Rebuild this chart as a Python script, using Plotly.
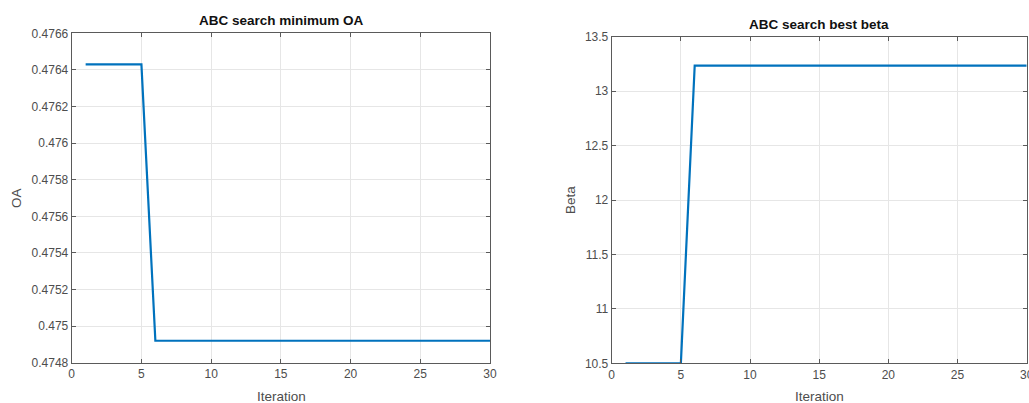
import plotly.graph_objects as go

iterations = list(range(1, 31))
min_oa = [0.47643] * 5 + [0.47492] * 25
best_beta = [10.5] * 5 + [13.235] * 25

left_title = "ABC search minimum OA"
right_title = "ABC search best beta"
x_label = "Iteration"
left_ylabel = "OA"
right_ylabel = "Beta"

x_ticks = [0, 5, 10, 15, 20, 25, 30]
oa_ticks = [0.4748, 0.475, 0.4752, 0.4754, 0.4756, 0.4758, 0.476, 0.4762, 0.4764, 0.4766]
oa_ticktext = ["0.4748", "0.475", "0.4752", "0.4754", "0.4756", "0.4758", "0.476", "0.4762", "0.4764", "0.4766"]
beta_ticks = [10.5, 11, 11.5, 12, 12.5, 13, 13.5]
beta_ticktext = ["10.5", "11", "11.5", "12", "12.5", "13", "13.5"]

W, H = 1029, 403
FONT = "Liberation Sans, Arial, sans-serif"
LINE = "#0072BD"
TICKC = "#4d4d4d"

fig = go.Figure()
fig.add_trace(go.Scatter(x=iterations, y=min_oa, mode="lines",
                         line=dict(color=LINE, width=2.2), xaxis="x", yaxis="y", showlegend=False))
fig.add_trace(go.Scatter(x=iterations, y=best_beta, mode="lines",
                         line=dict(color=LINE, width=2.2), xaxis="x2", yaxis="y2", showlegend=False))

def px_x(p):
    return p / W

def px_y(p):
    return 1 - p / H

common = dict(showline=True, linecolor="#5a5a5a", linewidth=1, mirror="ticks",
              ticks="inside", ticklen=4, tickcolor="#5a5a5a", tickwidth=1,
              showgrid=True, gridcolor="#e6e6e6", gridwidth=1, zeroline=False,
              automargin=False, ticklabeloverflow="allow",
              tickfont=dict(family=FONT, size=12, color=TICKC))

fig.update_layout(
    width=W, height=H,
    margin=dict(l=0, r=0, t=0, b=0),
    paper_bgcolor="white", plot_bgcolor="white",
    font=dict(family=FONT, color=TICKC),
    xaxis=dict(domain=[px_x(71.7), px_x(490)], range=[0, 30], tickvals=x_ticks,
               anchor="y", **common),
    yaxis=dict(domain=[px_y(362.7), px_y(33.3)], range=[0.4748, 0.4766],
               tickvals=oa_ticks, ticktext=oa_ticktext, anchor="x", **common),
    xaxis2=dict(domain=[px_x(611.7), px_x(1026.7)], range=[0, 30], tickvals=x_ticks,
                anchor="y2", **common),
    yaxis2=dict(domain=[px_y(363.3), px_y(36.7)], range=[10.5, 13.5],
                tickvals=beta_ticks, ticktext=beta_ticktext, anchor="x2", **common),
)

ann = []
ann.append(dict(text="<b>" + left_title + "</b>", x=px_x(281.5), y=px_y(20.7), xref="paper", yref="paper",
                showarrow=False, font=dict(family=FONT, size=13.5, color="#111111"),
                xanchor="center", yanchor="middle"))
ann.append(dict(text="<b>" + right_title + "</b>", x=px_x(819), y=px_y(24), xref="paper", yref="paper",
                showarrow=False, font=dict(family=FONT, size=13.5, color="#111111"),
                xanchor="center", yanchor="middle"))
ann.append(dict(text=x_label, x=px_x(281), y=px_y(396), xref="paper", yref="paper",
                showarrow=False, font=dict(family=FONT, size=13.5, color=TICKC),
                xanchor="center", yanchor="middle"))
ann.append(dict(text=x_label, x=px_x(819), y=px_y(396), xref="paper", yref="paper",
                showarrow=False, font=dict(family=FONT, size=13.5, color=TICKC),
                xanchor="center", yanchor="middle"))
ann.append(dict(text=left_ylabel, x=px_x(16), y=px_y(198), xref="paper", yref="paper",
                showarrow=False, textangle=-90, font=dict(family=FONT, size=13.5, color=TICKC),
                xanchor="center", yanchor="middle"))
ann.append(dict(text=right_ylabel, x=px_x(570), y=px_y(200), xref="paper", yref="paper",
                showarrow=False, textangle=-90, font=dict(family=FONT, size=13.5, color=TICKC),
                xanchor="center", yanchor="middle"))
fig.update_layout(annotations=ann)

fig.write_html("out.html", config={"displayModeBar": False},
               post_script="document.body.style.margin='0';document.body.style.overflow='hidden';")
